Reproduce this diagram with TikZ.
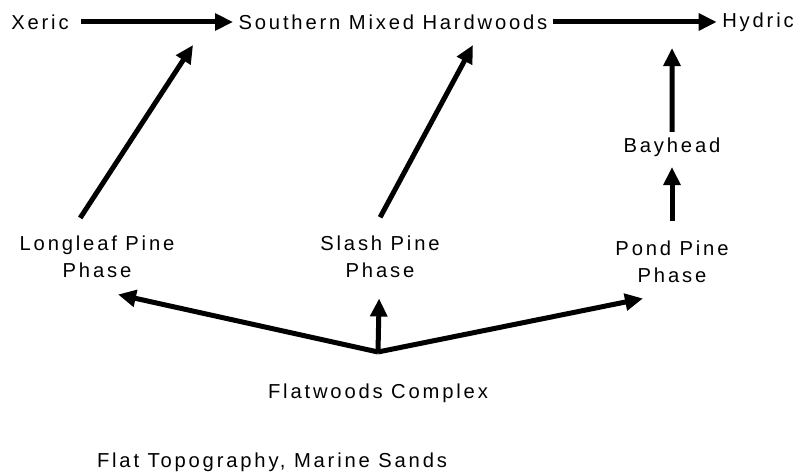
\documentclass[tikz,border=0pt]{standalone}
\usepackage{fontspec}
\setmainfont{Liberation Sans}[LetterSpace=14]
\usetikzlibrary{arrows.meta, positioning}

\begin{document}
\begin{tikzpicture}[
    x=0.02cm, y=-0.02cm,
    lbl/.style={font=\fontsize{11.5}{15.3}\selectfont, align=center, inner sep=3pt},
    arrow/.style={-{Triangle[length=0.36cm, width=0.33cm]}, line width=0.1cm}
]
    \useasboundingbox (0,0) rectangle (802,475);
    % Top row: moisture gradient
    \node[lbl] (xeric) at (40,22) {Xeric};
    \node[lbl] (smh) at (393,22) {Southern Mixed Hardwoods};
    \node[lbl] (hydric) at (758,22) {Hydric};
    \node[lbl] (bayhead) at (672,147) {Bayhead};
    % Middle row: pine phases
    \node[lbl] (longleaf) at (97,257) {Longleaf Pine\\Phase};
    \node[lbl] (slash) at (380,257) {Slash Pine\\Phase};
    \node[lbl] (pond) at (672,262) {Pond Pine\\Phase};
    % Bottom
    \coordinate (fork) at (378,352);
    \node[lbl] (flatwoods) at (378,393) {Flatwoods Complex};
    \node[lbl] (topo) at (272,462) {Flat Topography, Marine Sands};
    \draw[arrow, shorten <=4pt] (xeric) -- (smh);
    \draw[arrow] (smh) -- (hydric);
    \draw[arrow, shorten <=0.3cm] ([xshift=-0.5cm]longleaf.north) -- ([xshift=-4cm, yshift=-0.2cm]smh.south);
    \draw[arrow, shorten <=0.3cm] ([xshift=-0.14cm]slash.north) -- ([xshift=1.6cm, yshift=-0.2cm]smh.south);
    \draw[arrow, shorten <=0.3cm, shorten >=0.1cm] (pond) -- (bayhead);
    \draw[arrow] (bayhead) -- ([xshift=-1.72cm, yshift=-0.22cm]hydric.south);
    \draw[arrow, shorten >=0.3cm] (fork) -- (slash);
    \draw[arrow] (fork) -- ([xshift=0.42cm, yshift=-0.22cm]longleaf.south);
    \draw[arrow] (fork) -- ([xshift=-0.58cm, yshift=-0.2cm]pond.south);
\end{tikzpicture}
\end{document}
